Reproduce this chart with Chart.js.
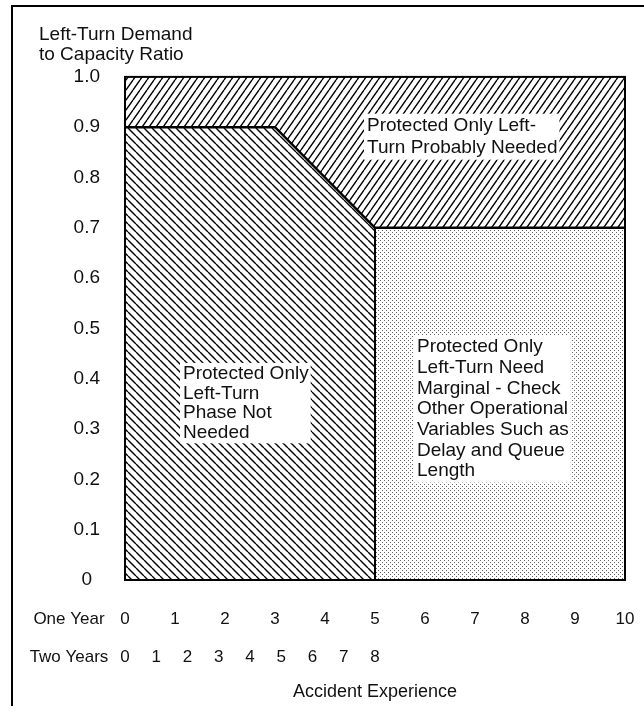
<!DOCTYPE html>
<html>
<head>
<meta charset="utf-8">
<script src="https://cdn.jsdelivr.net/npm/chart.js@4.4.1/dist/chart.umd.min.js"></script>
<style>
  html, body { margin: 0; padding: 0; background: #fff; }
</style>
</head>
<body>
<canvas id="chart" width="644" height="721"></canvas>
<script>
// x: accidents in one year; the two-year row is the same axis (8 in two years = 5 in one)
const oneYearTicks = [0, 1, 2, 3, 4, 5, 6, 7, 8, 9, 10];
const twoYearTicks = [0, 1, 2, 3, 4, 5, 6, 7, 8];
const ratioTicks = [0, 0.1, 0.2, 0.3, 0.4, 0.5, 0.6, 0.7, 0.8, 0.9, 1.0];

// lower edge of the "probably needed" zone
const boundaryX = [0, 3, 5, 10];
const boundaryY = [0.9, 0.9, 0.7, 0.7];
// top edge of the "not needed" zone
const notNeededX = [0, 3, 5];
const notNeededY = [0.9, 0.9, 0.7];
// top edge of the "marginal" zone
const marginalX = [5, 10];
const marginalY = [0.7, 0.7];
// divider between not needed / marginal
const dividerX = [5, 5];
const dividerY = [0.7, 0];

const zoneText = [
  ['Protected Only Left-', 'Turn Probably Needed'],
  ['Protected Only', 'Left-Turn', 'Phase Not', 'Needed'],
  ['Protected Only', 'Left-Turn Need', 'Marginal - Check', 'Other Operational', 'Variables Such as', 'Delay and Queue', 'Length']
];

const FONT = '"Liberation Sans", Arial, Helvetica, sans-serif';

const pts = (xs, ys) => xs.map((x, i) => ({ x: x, y: ys[i] }));

function hatch(dir, w, h) {
  const c = document.createElement('canvas');
  c.width = w; c.height = h;
  const g = c.getContext('2d');
  g.strokeStyle = '#000';
  g.lineWidth = 1.4;
  g.beginPath();
  for (let k = -1; k <= 1; k++) {
    if (dir === '/') { g.moveTo(k * w, h); g.lineTo(k * w + w, 0); }
    else { g.moveTo(k * w, 0); g.lineTo(k * w + w, h); }
  }
  g.stroke();
  return g.createPattern(c, 'repeat');
}

function dots() {
  const c = document.createElement('canvas');
  c.width = 4; c.height = 4;
  const g = c.getContext('2d');
  g.fillStyle = '#fff';
  g.fillRect(0, 0, 4, 4);
  g.fillStyle = '#666';
  g.fillRect(0, 0, 1, 1);
  g.fillRect(2, 2, 1, 1);
  return g.createPattern(c, 'repeat');
}

// where each zone label sits (data units: left of text, centre of first line)
const labelSpots = [
  { x: 4.84, y: 0.903, lh: 22 },
  { x: 1.16, y: 0.41, lh: 19.6 },
  { x: 5.84, y: 0.463, lh: 20.7 }
];

const noSidePad = s => { s.paddingLeft = 0; s.paddingRight = 0; };

const decor = {
  id: 'decor',
  afterDraw(chart) {
    const { ctx, chartArea: a, scales } = chart;
    ctx.save();
    // plot frame
    ctx.strokeStyle = '#000';
    ctx.lineWidth = 2;
    ctx.strokeRect(a.left, a.top, a.width, a.height);
    // outer page frame (left and top)
    ctx.beginPath();
    ctx.moveTo(12, 706); ctx.lineTo(12, 6); ctx.lineTo(644, 6);
    ctx.stroke();

    // zone labels on white
    ctx.font = '19px ' + FONT;
    ctx.textBaseline = 'middle';
    ctx.textAlign = 'left';
    zoneText.forEach((lines, i) => {
      const s = labelSpots[i];
      const x = scales.x.getPixelForValue(s.x);
      const y = scales.y.getPixelForValue(s.y);
      const w = Math.max(...lines.map(t => ctx.measureText(t).width));
      ctx.fillStyle = '#fff';
      ctx.fillRect(x - 3, y - s.lh / 2 - 1, w + 5, s.lh * lines.length + 2);
      ctx.fillStyle = '#111';
      lines.forEach((t, j) => ctx.fillText(t, x, y + j * s.lh));
    });

    // row captions for the two x scales
    ctx.font = '17px ' + FONT;
    ctx.textAlign = 'center';
    ctx.fillText('One Year', 69, scales.x.top + 39);
    ctx.fillText('Two Years', 69, scales.x2.top + 19);
    ctx.restore();
  }
};

new Chart(document.getElementById('chart'), {
  type: 'line',
  data: {
    datasets: [
      {
        data: pts(dividerX, dividerY),
        borderColor: '#000', borderWidth: 2, pointRadius: 0, fill: false
      },
      {
        data: pts(boundaryX, boundaryY),
        borderColor: '#000', borderWidth: 2.5, pointRadius: 0,
        fill: 'end', backgroundColor: hatch('/', 7, 10)
      },
      {
        data: pts(notNeededX, notNeededY),
        borderWidth: 0, pointRadius: 0,
        fill: 'origin', backgroundColor: hatch('\\', 8, 8)
      },
      {
        data: pts(marginalX, marginalY),
        borderWidth: 0, pointRadius: 0,
        fill: 'origin', backgroundColor: dots()
      }
    ]
  },
  options: {
    responsive: false,
    animation: false,
    layout: { padding: { left: 39, right: 19, top: 0, bottom: 0 } },
    plugins: {
      legend: { display: false },
      tooltip: { enabled: false },
      title: {
        display: true,
        text: ['Left-Turn Demand', 'to Capacity Ratio'],
        align: 'start',
        color: '#111',
        font: { family: FONT, size: 19, weight: 'normal', lineHeight: 1.05 },
        padding: { top: 25, bottom: 12 }
      }
    },
    scales: {
      x: {
        type: 'linear',
        position: 'bottom',
        min: oneYearTicks[0],
        max: oneYearTicks[oneYearTicks.length - 1],
        afterBuildTicks: s => { s.ticks = oneYearTicks.map(v => ({ value: v })); },
        afterFit: s => { s.height = 58; noSidePad(s); },
        grid: { display: false, drawTicks: false },
        border: { display: false },
        ticks: { padding: 29, color: '#111', font: { family: FONT, size: 17 } }
      },
      x2: {
        type: 'linear',
        position: 'bottom',
        min: 0,
        max: twoYearTicks[twoYearTicks.length - 1] * 2,
        afterBuildTicks: s => { s.ticks = twoYearTicks.map(v => ({ value: v })); },
        afterFit: s => { s.height = 83; noSidePad(s); },
        grid: { display: false, drawTicks: false },
        border: { display: false },
        ticks: { padding: 9, color: '#111', font: { family: FONT, size: 17 } },
        title: {
          display: true,
          text: 'Accident Experience',
          color: '#111',
          font: { family: FONT, size: 18 },
          padding: { top: 0, bottom: 18 }
        }
      },
      y: {
        type: 'linear',
        min: 0,
        max: 1,
        afterBuildTicks: s => { s.ticks = ratioTicks.map(v => ({ value: v })); },
        afterFit: s => { s.width = 86; },
        grid: { display: false, drawTicks: false },
        border: { display: false },
        ticks: {
          padding: 25,
          crossAlign: 'center',
          color: '#111',
          font: { family: FONT, size: 19 },
          callback: v => (v === 0 ? '0' : v.toFixed(1))
        }
      }
    }
  },
  plugins: [decor]
});
</script>
</body>
</html>
